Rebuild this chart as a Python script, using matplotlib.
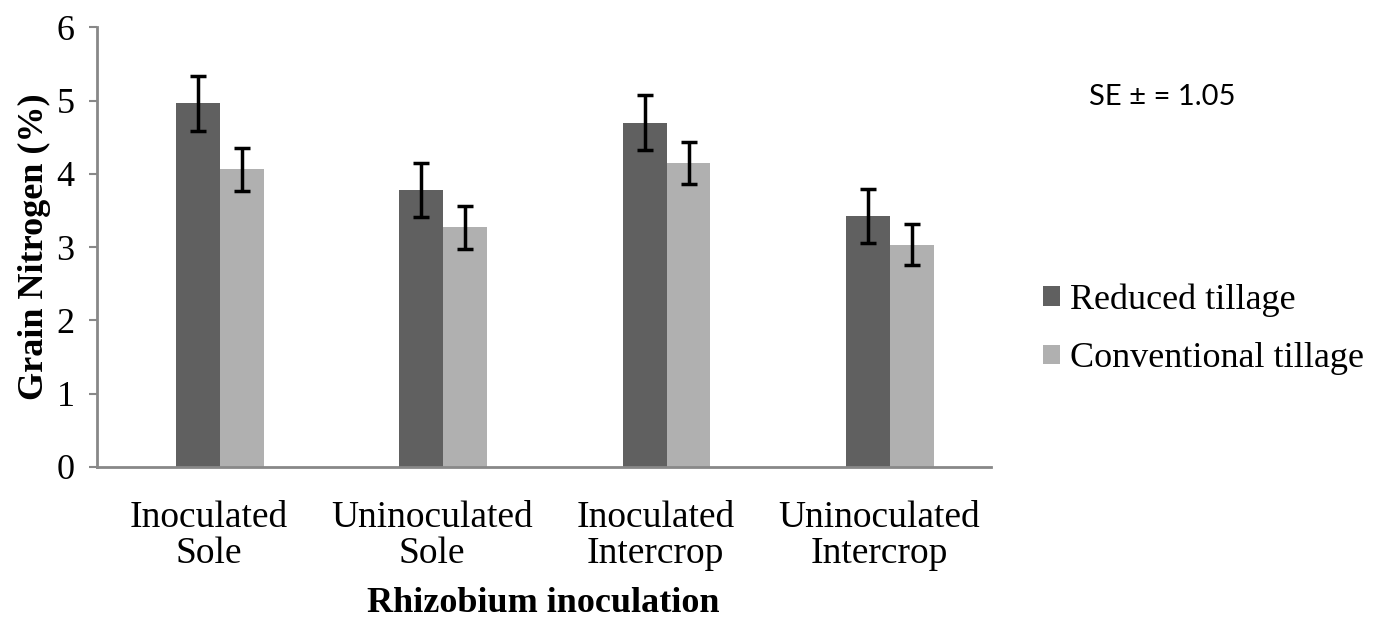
import numpy as np
import matplotlib.pyplot as plt

# Daten (Grain N, %)
categories = ['Inoculated\nSole', 'Uninoculated\nSole', 'Inoculated\nIntercrop', 'Uninoculated\nIntercrop']
reduced = [4.96, 3.78, 4.70, 3.42]
reduced_err = [0.37, 0.37, 0.37, 0.37]
conventional = [4.06, 3.27, 4.15, 3.03]
conventional_err = [0.29, 0.29, 0.29, 0.28]
series_names = ['Reduced tillage', 'Conventional tillage']
yticks = [0, 1, 2, 3, 4, 5, 6]

plt.rcParams['font.family'] = ['Liberation Serif', 'DejaVu Serif']

fig = plt.figure(figsize=(13.79, 6.2), dpi=100)
ax = fig.add_axes([0.0703, 0.247, 0.648, 0.709])

x = np.arange(len(categories))
w = 0.196
off = 0.05
ax.bar(x - w / 2 + off, reduced, w, color='#606060', label=series_names[0], zorder=2)
ax.bar(x + w / 2 + off, conventional, w, color='#b0b0b0', label=series_names[1], zorder=2)
ax.errorbar(x - w / 2 + off, reduced, yerr=reduced_err, fmt='none', ecolor='black',
            elinewidth=2.5, capsize=6, capthick=2.5, zorder=3)
ax.errorbar(x + w / 2 + off, conventional, yerr=conventional_err, fmt='none', ecolor='black',
            elinewidth=2.5, capsize=6, capthick=2.5, zorder=3)

ax.set_xlim(-0.5, 3.5)
ax.set_ylim(0, 6)
ax.set_yticks(yticks)
ax.set_xticks(x)
ax.set_xticklabels(categories, fontsize=27, linespacing=1.05)
ax.tick_params(axis='y', labelsize=26, length=6, width=1.5, color='#888888', pad=10)
ax.tick_params(axis='x', length=0, pad=24)

for s in ['top', 'right']:
    ax.spines[s].set_visible(False)
for s in ['left', 'bottom']:
    ax.spines[s].set_color('#888888')
    ax.spines[s].set_linewidth(2)

ax.set_ylabel('Grain Nitrogen (%)', fontsize=26, fontweight='bold', labelpad=4)
ax.set_xlabel('Rhizobium inoculation', fontsize=26, fontweight='bold', labelpad=12)

fig.text(0.79, 0.844, 'SE \u00b1 = 1.05', fontsize=21, family='Lato', ha='left', va='center')

fig.legend(loc='center left', bbox_to_anchor=(0.733, 0.469), fontsize=26, frameon=False,
           handlelength=0.45, handleheight=0.45, handletextpad=0.3, labelspacing=0.7)

fig.savefig('out.png', dpi=100)
